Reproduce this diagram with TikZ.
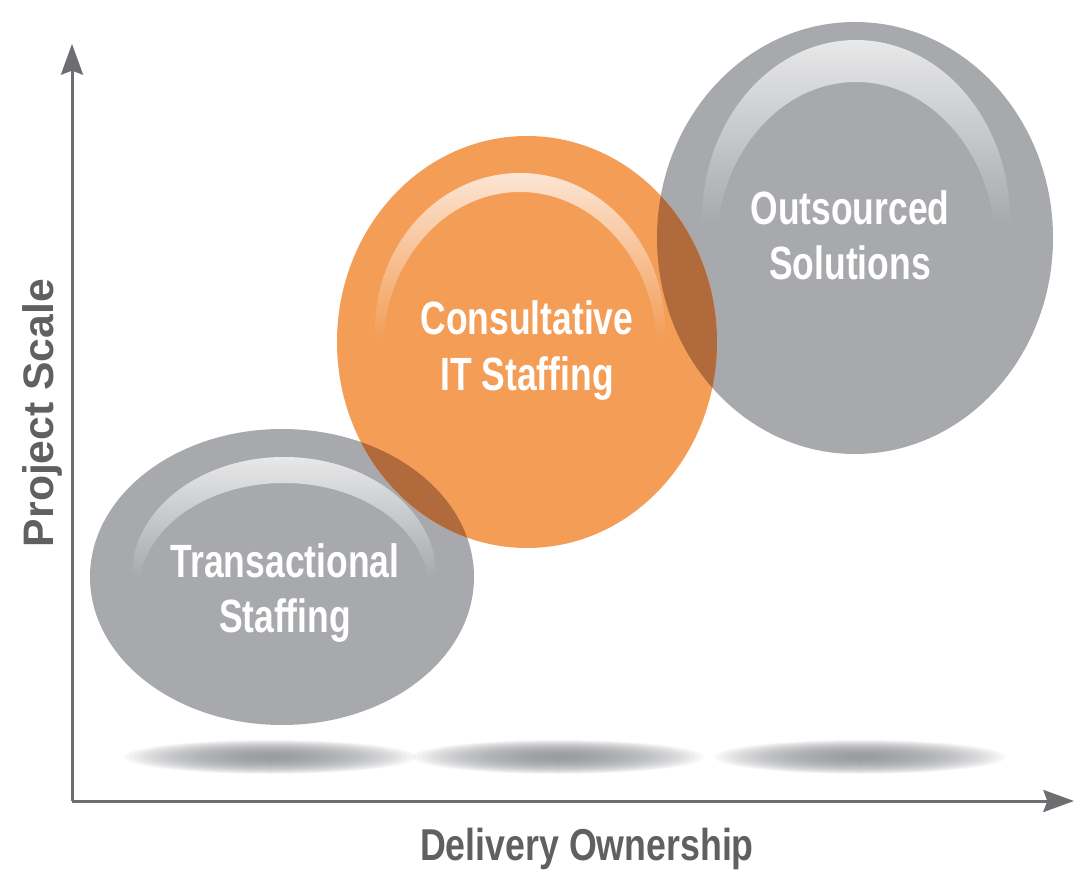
\documentclass[tikz,border=0pt]{standalone}
\usepackage{fontspec}
\setmainfont{Liberation Sans}
\newfontfamily\bubblefont[FakeStretch=0.76]{Liberation Sans}
\newfontfamily\axisfont[FakeStretch=0.80]{Liberation Sans}
\usetikzlibrary{arrows.meta,fadings}
\definecolor{bubblegray}{HTML}{A7A9AC}
\definecolor{bubbleorange}{HTML}{F49D57}
\definecolor{overlapbrown}{HTML}{B06A3C}
\definecolor{axisgray}{HTML}{6D6E71}
\definecolor{labelgray}{HTML}{5F6062}
\definecolor{shadowgray}{HTML}{8E9093}
\tikzfading[name=hlfade, top color=transparent!25, bottom color=transparent!100]
\newcommand\TransPath{(282,577) ellipse [x radius=192, y radius=148]}
\newcommand\ConsPath{(527,342) ellipse [x radius=190, y radius=206]}
\newcommand\OutPath{(855,238) ellipse [x radius=198, y radius=216]}
\newcommand\FloorShadow[1]{%
  \foreach \k in {1,...,32}{%
    \fill[shadowlayer] (#1,757) ellipse [x radius={146*(33-\k)/32}, y radius={16*(33-\k)/32+1}];
  }}
\begin{document}
\begin{tikzpicture}[x=0.75pt, y=-0.75pt,
  axis/.style={draw=axisgray, line width=2.25pt, -{Stealth[length=23pt, width=16.5pt, inset=3pt]}},
  bubblelabel/.style={text=white, align=center, anchor=base, inner sep=0pt,
    font=\bubblefont\bfseries\fontsize{35}{41.25}\selectfont},
  axislabel/.style={text=labelgray, anchor=base, inner sep=0pt},
  shadowlayer/.style={fill=shadowgray, fill opacity=0.055},
  highlight/.style={fill=white, path fading=hlfade}]
\useasboundingbox (0,0) rectangle (1074,873);
\fill[white] (0,0) rectangle (1074,873);
% floor shadows
\FloorShadow{270}
\FloorShadow{558}
\FloorShadow{860}
% axes
\coordinate (origin) at (72,801);
\coordinate (ytip) at (72,44);
\coordinate (xtip) at (1074,801);
\draw[axis] (origin) -- (ytip);
\draw[axis] (origin) -- (xtip);
% bubbles
\fill[bubblegray] \TransPath;
\fill[bubblegray] \OutPath;
\fill[bubbleorange] \ConsPath;
\begin{scope}
  \clip \ConsPath;
  \fill[overlapbrown] \TransPath;
  \fill[overlapbrown] \OutPath;
\end{scope}
% glossy highlights
\begin{scope}[even odd rule]
  \clip \TransPath;
  \clip (284,575) ellipse [x radius=152, y radius=118] (284,590) ellipse [x radius=145, y radius=107];
  \fill[highlight] (120,455) rectangle (450,578);
\end{scope}
\begin{scope}[even odd rule]
  \clip \ConsPath;
  \clip (520,330) ellipse [x radius=145, y radius=157] (520,350) ellipse [x radius=137, y radius=158];
  \fill[highlight] (360,171) rectangle (680,340);
\end{scope}
\begin{scope}[even odd rule]
  \clip \OutPath;
  \clip (856,220) ellipse [x radius=154, y radius=180] (856,250) ellipse [x radius=140, y radius=168];
  \fill[highlight] (690,38) rectangle (1020,225);
\end{scope}
% labels
\node[bubblelabel] (trans) at (285,632) {Transactional\\Staffing};
\node[bubblelabel] (cons) at (527,390) {Consultative\\IT Staffing};
\node[bubblelabel] (outs) at (850,280) {Outsourced\\Solutions};
\node[axislabel, font=\axisfont\bfseries\fontsize{33.5}{40}\selectfont] (xlab) at (587,860) {Delivery Ownership};
\node[axislabel, rotate=90, font=\bfseries\fontsize{32}{38}\selectfont] (ylab) at (53,413) {Project Scale};
\end{tikzpicture}
\end{document}
